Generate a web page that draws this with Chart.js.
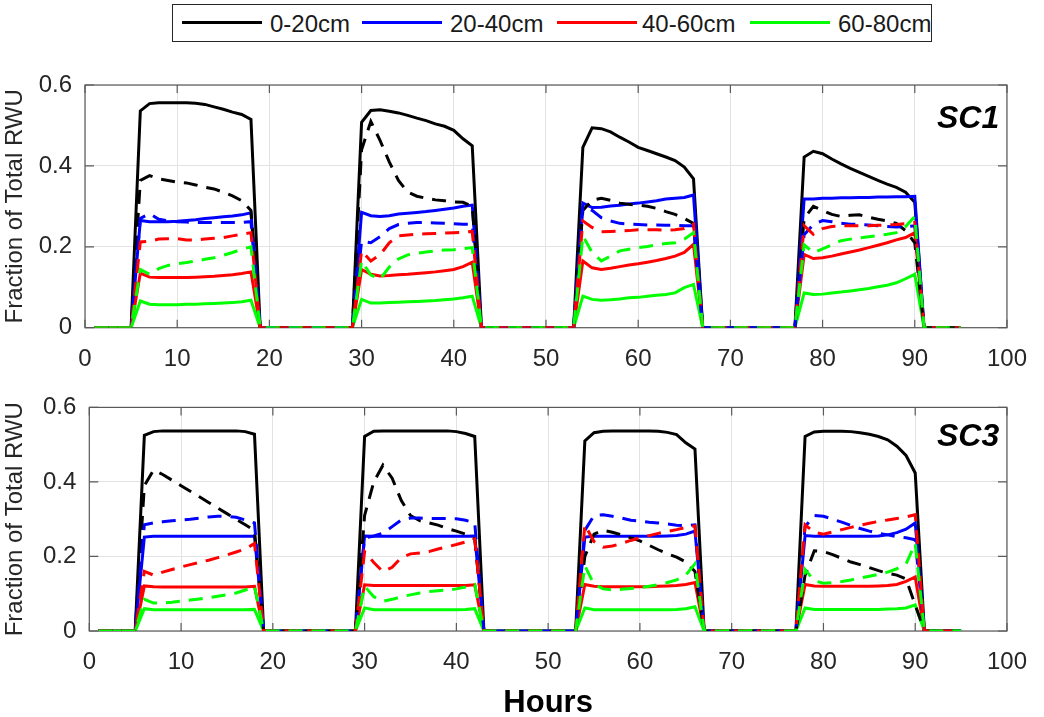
<!DOCTYPE html>
<html>
<head>
<meta charset="utf-8">
<script src="https://cdn.jsdelivr.net/npm/chart.js@4"></script>
<style>
  body { margin: 0; background: #fff; width: 1044px; height: 717px; overflow: hidden; position: relative;
         font-family: "Liberation Sans", Arial, sans-serif; color: #262626; }
  canvas { position: absolute; left: 0; }
  #legend { position: absolute; left: 172px; top: 4px; width: 758px; height: 36px; border: 1.5px solid #262626;
            background: #fff; z-index: 2; }
  .key { position: absolute; top: 16px; height: 3px; width: 80px; }
  .lab { position: absolute; top: 5px; font-size: 24px; line-height: 28px; color: #1a1a1a; white-space: nowrap; }
  .tag { position: absolute; font-size: 32px; font-weight: bold; font-style: italic; color: #000; z-index: 2; }
</style>
</head>
<body>
<div id="legend">
  <div class="key" style="left:9px;background:#000"></div><div class="lab" style="left:97px">0-20cm</div>
  <div class="key" style="left:189px;background:#0000ff"></div><div class="lab" style="left:277px">20-40cm</div>
  <div class="key" style="left:384px;background:#ff0000"></div><div class="lab" style="left:469px">40-60cm</div>
  <div class="key" style="left:577px;background:#00ff00"></div><div class="lab" style="left:665px">60-80cm</div>
</div>
<div class="tag" style="left:937px;top:99px">SC1</div>
<div class="tag" style="left:937px;top:417px">SC3</div>
<canvas id="sc1" width="1044" height="380" style="top:0"></canvas>
<canvas id="sc3" width="1044" height="339" style="top:380px"></canvas>
<script>
const hours = [1, 2, 3, 4, 5, 6, 7, 8, 9, 10, 11, 12, 13, 14, 15, 16, 17, 18, 19, 20,
  21, 22, 23, 24, 25, 26, 27, 28, 29, 30, 31, 32, 33, 34, 35, 36, 37, 38, 39, 40,
  41, 42, 43, 44, 45, 46, 47, 48, 49, 50, 51, 52, 53, 54, 55, 56, 57, 58, 59, 60,
  61, 62, 63, 64, 65, 66, 67, 68, 69, 70, 71, 72, 73, 74, 75, 76, 77, 78, 79, 80,
  81, 82, 83, 84, 85, 86, 87, 88, 89, 90, 91, 92, 93, 94, 95];
// daylight windows (13 hourly values each); uptake is 0 outside them
const dayStart = [6, 30, 54, 78];
const layers = ['0-20cm', '20-40cm', '40-60cm', '60-80cm'];
const colors = ['#000000', '#0000ff', '#ff0000', '#00ff00'];
const xTicks = [0, 10, 20, 30, 40, 50, 60, 70, 80, 90, 100];
const yTicks = [0, 0.2, 0.4, 0.6];

// SC1, solid lines
const sc1Solid0 = [0.536, 0.554, 0.556, 0.556, 0.556, 0.556, 0.555, 0.552, 0.546, 0.540, 0.533, 0.527, 0.515,
  0.508, 0.537, 0.539, 0.535, 0.531, 0.525, 0.518, 0.512, 0.504, 0.498, 0.488, 0.467, 0.450,
  0.446, 0.494, 0.492, 0.484, 0.471, 0.459, 0.446, 0.438, 0.430, 0.422, 0.413, 0.397, 0.368,
  0.422, 0.436, 0.430, 0.417, 0.405, 0.394, 0.384, 0.374, 0.364, 0.355, 0.347, 0.335, 0.310];
const sc1Solid1 = [0.265, 0.262, 0.262, 0.262, 0.263, 0.265, 0.267, 0.270, 0.272, 0.274, 0.276, 0.279, 0.284,
  0.285, 0.277, 0.275, 0.277, 0.281, 0.283, 0.285, 0.287, 0.290, 0.293, 0.296, 0.300, 0.303,
  0.308, 0.297, 0.298, 0.301, 0.303, 0.306, 0.308, 0.311, 0.314, 0.318, 0.320, 0.322, 0.328,
  0.318, 0.318, 0.320, 0.320, 0.321, 0.321, 0.322, 0.322, 0.323, 0.323, 0.324, 0.324, 0.325];
const sc1Solid2 = [0.135, 0.125, 0.124, 0.124, 0.124, 0.124, 0.125, 0.126, 0.127, 0.129, 0.131, 0.134, 0.138,
  0.144, 0.132, 0.128, 0.129, 0.131, 0.132, 0.134, 0.136, 0.138, 0.141, 0.144, 0.151, 0.162,
  0.165, 0.148, 0.144, 0.147, 0.151, 0.155, 0.158, 0.162, 0.166, 0.171, 0.177, 0.186, 0.206,
  0.181, 0.171, 0.173, 0.177, 0.182, 0.187, 0.192, 0.198, 0.204, 0.210, 0.217, 0.223, 0.235];
const sc1Solid3 = [0.066, 0.058, 0.057, 0.057, 0.057, 0.058, 0.058, 0.059, 0.060, 0.061, 0.062, 0.064, 0.068,
  0.070, 0.061, 0.061, 0.062, 0.063, 0.064, 0.065, 0.066, 0.067, 0.069, 0.071, 0.074, 0.078,
  0.078, 0.070, 0.068, 0.069, 0.071, 0.074, 0.075, 0.078, 0.080, 0.082, 0.086, 0.099, 0.107,
  0.086, 0.082, 0.083, 0.086, 0.088, 0.091, 0.094, 0.097, 0.101, 0.105, 0.111, 0.121, 0.132];
// SC1, dashed lines
const sc1Dash0 = [0.364, 0.376, 0.368, 0.364, 0.360, 0.358, 0.353, 0.347, 0.343, 0.335, 0.326, 0.314, 0.290,
  0.440, 0.510, 0.463, 0.410, 0.364, 0.335, 0.325, 0.320, 0.316, 0.314, 0.311, 0.310, 0.300,
  0.290, 0.315, 0.320, 0.315, 0.308, 0.305, 0.303, 0.300, 0.295, 0.287, 0.280, 0.270, 0.258,
  0.270, 0.300, 0.290, 0.280, 0.275, 0.278, 0.279, 0.273, 0.268, 0.264, 0.258, 0.240, 0.210];
const sc1Dash1 = [0.270, 0.282, 0.268, 0.264, 0.262, 0.261, 0.260, 0.260, 0.260, 0.260, 0.260, 0.260, 0.262,
  0.214, 0.210, 0.225, 0.245, 0.255, 0.258, 0.260, 0.260, 0.259, 0.258, 0.257, 0.256, 0.256,
  0.300, 0.290, 0.272, 0.264, 0.258, 0.256, 0.255, 0.254, 0.254, 0.253, 0.253, 0.252, 0.252,
  0.230, 0.255, 0.265, 0.262, 0.258, 0.256, 0.255, 0.254, 0.252, 0.250, 0.249, 0.250, 0.252];
const sc1Dash2 = [0.212, 0.214, 0.219, 0.220, 0.220, 0.217, 0.217, 0.219, 0.221, 0.223, 0.227, 0.231, 0.235,
  0.190, 0.165, 0.180, 0.210, 0.227, 0.229, 0.231, 0.232, 0.233, 0.234, 0.235, 0.236, 0.238,
  0.264, 0.248, 0.237, 0.238, 0.239, 0.240, 0.242, 0.242, 0.242, 0.241, 0.242, 0.245, 0.256,
  0.252, 0.231, 0.245, 0.250, 0.252, 0.252, 0.252, 0.252, 0.253, 0.254, 0.255, 0.257, 0.260];
const sc1Dash3 = [0.144, 0.132, 0.146, 0.154, 0.158, 0.161, 0.165, 0.169, 0.173, 0.179, 0.186, 0.194, 0.200,
  0.165, 0.130, 0.120, 0.150, 0.170, 0.180, 0.184, 0.187, 0.190, 0.192, 0.193, 0.195, 0.198,
  0.227, 0.186, 0.165, 0.177, 0.190, 0.194, 0.198, 0.201, 0.205, 0.208, 0.210, 0.219, 0.235,
  0.205, 0.185, 0.195, 0.205, 0.215, 0.219, 0.222, 0.225, 0.228, 0.231, 0.235, 0.250, 0.275];

// SC3, solid lines
const sc3Solid0 = [0.525, 0.535, 0.537, 0.537, 0.537, 0.537, 0.537, 0.537, 0.537, 0.537, 0.537, 0.535, 0.528,
  0.522, 0.536, 0.537, 0.537, 0.537, 0.537, 0.537, 0.537, 0.537, 0.537, 0.535, 0.530, 0.522,
  0.510, 0.532, 0.536, 0.537, 0.537, 0.537, 0.537, 0.537, 0.536, 0.533, 0.527, 0.505, 0.488,
  0.522, 0.534, 0.536, 0.536, 0.536, 0.535, 0.532, 0.528, 0.522, 0.513, 0.496, 0.471, 0.424];
const sc3Solid1 = [0.252, 0.254, 0.254, 0.254, 0.254, 0.254, 0.254, 0.254, 0.254, 0.254, 0.254, 0.254, 0.254,
  0.255, 0.254, 0.254, 0.254, 0.254, 0.254, 0.254, 0.254, 0.254, 0.254, 0.254, 0.254, 0.255,
  0.252, 0.254, 0.254, 0.254, 0.254, 0.254, 0.254, 0.254, 0.254, 0.255, 0.256, 0.260, 0.268,
  0.256, 0.254, 0.254, 0.254, 0.254, 0.254, 0.254, 0.254, 0.255, 0.258, 0.264, 0.273, 0.290];
const sc3Solid2 = [0.121, 0.119, 0.118, 0.118, 0.118, 0.118, 0.118, 0.118, 0.118, 0.118, 0.118, 0.118, 0.120,
  0.124, 0.122, 0.122, 0.122, 0.122, 0.122, 0.122, 0.122, 0.122, 0.122, 0.122, 0.122, 0.124,
  0.125, 0.120, 0.119, 0.119, 0.119, 0.119, 0.119, 0.119, 0.120, 0.121, 0.122, 0.125, 0.130,
  0.125, 0.121, 0.120, 0.120, 0.120, 0.120, 0.120, 0.120, 0.121, 0.122, 0.125, 0.133, 0.145];
const sc3Solid3 = [0.060, 0.057, 0.057, 0.057, 0.057, 0.057, 0.057, 0.057, 0.057, 0.057, 0.057, 0.057, 0.058,
  0.062, 0.057, 0.057, 0.057, 0.057, 0.057, 0.057, 0.057, 0.057, 0.057, 0.057, 0.058, 0.060,
  0.062, 0.057, 0.057, 0.057, 0.057, 0.057, 0.057, 0.057, 0.057, 0.057, 0.058, 0.060, 0.065,
  0.062, 0.058, 0.058, 0.058, 0.058, 0.058, 0.058, 0.058, 0.058, 0.059, 0.060, 0.062, 0.070];
// SC3, dashed lines
const sc3Dash0 = [0.390, 0.432, 0.420, 0.405, 0.390, 0.375, 0.360, 0.345, 0.330, 0.315, 0.300, 0.285, 0.270,
  0.310, 0.400, 0.445, 0.410, 0.350, 0.310, 0.296, 0.290, 0.284, 0.275, 0.268, 0.260, 0.247,
  0.200, 0.260, 0.270, 0.265, 0.258, 0.250, 0.242, 0.230, 0.218, 0.207, 0.198, 0.185, 0.160,
  0.150, 0.215, 0.213, 0.205, 0.195, 0.185, 0.178, 0.170, 0.162, 0.155, 0.150, 0.140, 0.070];
const sc3Dash1 = [0.285, 0.290, 0.293, 0.296, 0.298, 0.300, 0.303, 0.306, 0.308, 0.308, 0.305, 0.298, 0.290,
  0.250, 0.255, 0.262, 0.280, 0.298, 0.303, 0.303, 0.302, 0.302, 0.302, 0.301, 0.297, 0.290,
  0.270, 0.310, 0.312, 0.308, 0.303, 0.297, 0.295, 0.292, 0.290, 0.287, 0.284, 0.283, 0.285,
  0.280, 0.310, 0.308, 0.300, 0.292, 0.283, 0.275, 0.268, 0.262, 0.258, 0.253, 0.250, 0.245];
const sc3Dash2 = [0.160, 0.150, 0.158, 0.165, 0.172, 0.178, 0.184, 0.190, 0.197, 0.204, 0.212, 0.220, 0.235,
  0.213, 0.184, 0.159, 0.171, 0.197, 0.207, 0.209, 0.213, 0.220, 0.226, 0.232, 0.239, 0.247,
  0.285, 0.240, 0.225, 0.228, 0.235, 0.243, 0.250, 0.256, 0.262, 0.267, 0.272, 0.278, 0.282,
  0.285, 0.265, 0.260, 0.266, 0.272, 0.278, 0.284, 0.289, 0.294, 0.298, 0.302, 0.306, 0.312];
const sc3Dash3 = [0.085, 0.075, 0.075, 0.077, 0.080, 0.083, 0.086, 0.089, 0.093, 0.097, 0.102, 0.110, 0.120,
  0.120, 0.092, 0.080, 0.085, 0.092, 0.097, 0.102, 0.106, 0.108, 0.110, 0.113, 0.118, 0.125,
  0.175, 0.125, 0.113, 0.110, 0.112, 0.114, 0.116, 0.120, 0.124, 0.130, 0.137, 0.150, 0.180,
  0.165, 0.135, 0.128, 0.130, 0.133, 0.137, 0.142, 0.147, 0.152, 0.158, 0.167, 0.180, 0.235];

// put the daylight values onto the hourly axis
function series(vals) {
  return hours.map(h => {
    for (let d = 0; d < dayStart.length; d++) {
      const i = h - dayStart[d];
      if (i >= 0 && i < 13) return { x: h, y: vals[d * 13 + i] };
    }
    return { x: h, y: 0 };
  });
}

function datasets(solid, dashed) {
  const out = [];
  solid.concat(dashed).forEach((vals, i) => {
    out.push({
      label: layers[i % 4] + (i < 4 ? '' : ' (dashed)'),
      data: series(vals),
      borderColor: colors[i % 4],
      borderWidth: 3,
      borderDash: i < 4 ? [] : [14, 9],
      pointRadius: 0,
      tension: 0,
      order: 20 - i
    });
  });
  return out;
}

// matlab style box with inward ticks
const frame = {
  id: 'frame',
  beforeDatasetsDraw(chart) {
    const { ctx, chartArea: a, scales } = chart;
    ctx.save();
    ctx.strokeStyle = '#5a5a5a';
    ctx.lineWidth = 1.2;
    ctx.strokeRect(a.left, a.top, a.width, a.height);
    ctx.beginPath();
    xTicks.forEach(v => {
      const px = scales.x.getPixelForValue(v);
      ctx.moveTo(px, a.bottom); ctx.lineTo(px, a.bottom - 8);
      ctx.moveTo(px, a.top); ctx.lineTo(px, a.top + 8);
    });
    yTicks.forEach(v => {
      const py = scales.y.getPixelForValue(v);
      ctx.moveTo(a.left, py); ctx.lineTo(a.left + 9, py);
      ctx.moveTo(a.right, py); ctx.lineTo(a.right - 9, py);
    });
    ctx.stroke();
    ctx.restore();
  }
};

const font = { family: '"Liberation Sans", Arial, sans-serif', size: 24 };

function makeChart(id, solid, dashed, box, showTitle) {
  return new Chart(document.getElementById(id), {
    type: 'line',
    data: { datasets: datasets(solid, dashed) },
    options: {
      responsive: false,
      animation: false,
      layout: { padding: { top: box.top, right: box.right, bottom: 0, left: 0 } },
      plugins: { legend: { display: false }, tooltip: { enabled: false } },
      scales: {
        x: {
          type: 'linear', min: 0, max: 100,
          afterBuildTicks: s => { s.ticks = xTicks.map(v => ({ value: v })); },
          afterFit: s => { s.height = box.xh; },
          grid: { color: '#e3e3e3', drawTicks: false },
          border: { display: false },
          ticks: { font: font, color: '#262626', padding: 17, maxRotation: 0 },
          title: {
            display: showTitle, text: 'Hours', color: '#000',
            font: { family: font.family, size: 31, weight: 'bold', lineHeight: 1 },
            padding: 0
          }
        },
        y: {
          min: 0, max: 0.6,
          afterBuildTicks: s => { s.ticks = yTicks.map(v => ({ value: v })); },
          afterFit: s => { s.width = box.yw; },
          grid: { color: '#e3e3e3', drawTicks: false },
          border: { display: false },
          ticks: { font: font, color: '#262626', padding: 13, callback: v => v === 0 ? '0' : v.toFixed(1) },
          title: {
            display: true, text: 'Fraction of Total RWU', color: '#262626',
            font: { family: font.family, size: 24, lineHeight: 1.2 },
            padding: { top: 1, bottom: 0 }
          }
        }
      }
    },
    plugins: [frame]
  });
}

makeChart('sc1', [sc1Solid0, sc1Solid1, sc1Solid2, sc1Solid3], [sc1Dash0, sc1Dash1, sc1Dash2, sc1Dash3],
  { top: 85, right: 27.3, xh: 52.3, yw: 85 }, false);
makeChart('sc3', [sc3Solid0, sc3Solid1, sc3Solid2, sc3Solid3], [sc3Dash0, sc3Dash1, sc3Dash2, sc3Dash3],
  { top: 14.5, right: 23.5, xh: 88, yw: 89.3 }, true);
</script>
</body>
</html>
